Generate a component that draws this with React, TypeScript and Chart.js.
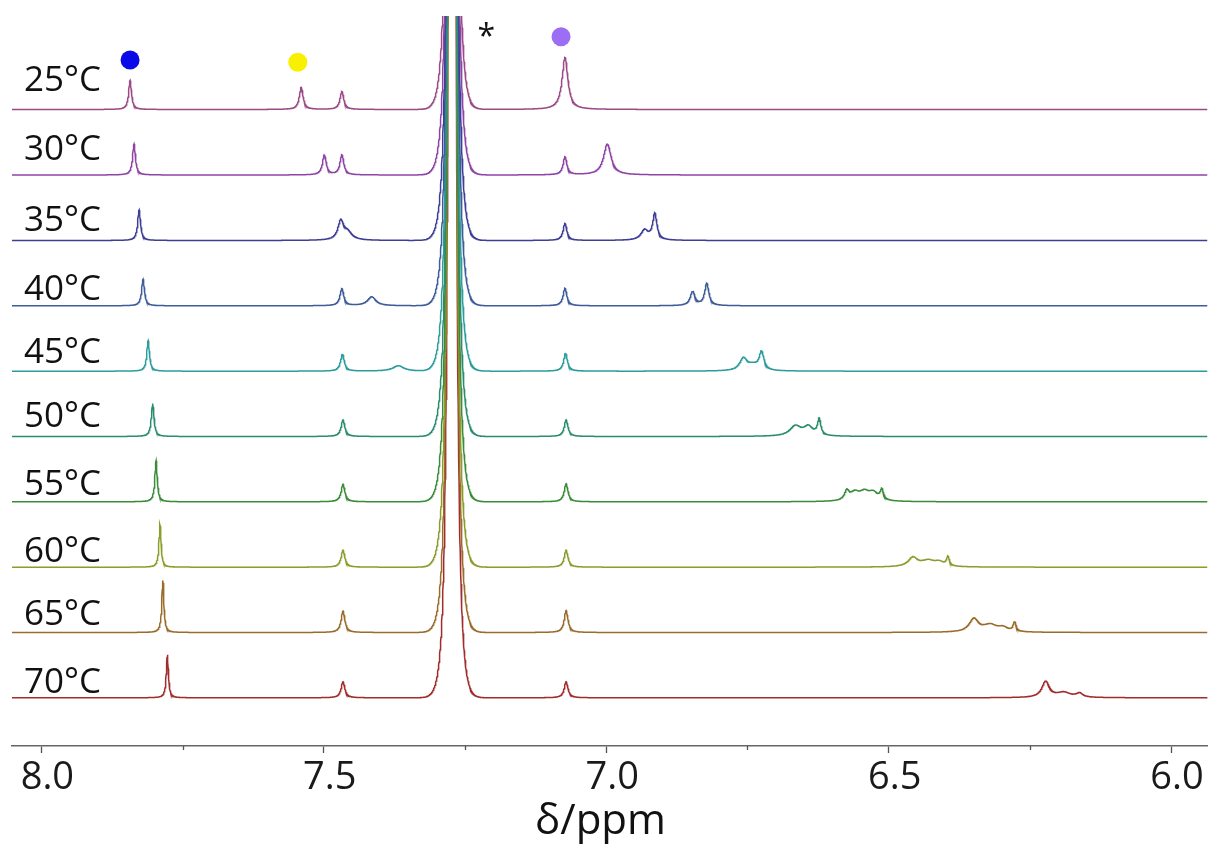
import React, { useEffect, useRef } from "react";
import { Chart, registerables } from "chart.js";

Chart.register(...registerables);

// ---- axis range & ticks (ppm, reversed axis) ----
const ppmLeft = 8.052;
const ppmRight = 5.9355;
const majorTicks = [8.0, 7.5, 7.0, 6.5, 6.0];
const minorTicks = [7.75, 7.25, 6.75, 6.25];
const sampleStep = 0.0005;

// ---- traces ----
const temperatures = ["25°C", "30°C", "35°C", "40°C", "45°C", "50°C", "55°C", "60°C", "65°C", "70°C"];
const traceColors = [
  "#9c4a86", "#8e44a6", "#3e3e96", "#3d5c98", "#2c9c9c",
  "#2b8c70", "#3a8c3a", "#8c9c2c", "#9a6c2c", "#a02c2c",
];
// vertical offset of each spectrum's baseline (same units as y axis)
const baselineLevels = [636.5, 571, 505.5, 440.2, 374.8, 309.5, 244.2, 178.8, 113.5, 48.2];
// text baseline level of each temperature label
const labelLevels = [655.3, 586, 515.3, 446, 383, 319.3, 251, 184.3, 121, 53];

// peaks: [ppm, height, half-width (ppm)]
const peaks25 = [[7.843, 29, 0.003], [7.54, 22, 0.004], [7.468, 18, 0.004], [7.073, 52, 0.0062]];
const peaks30 = [[7.836, 31, 0.003], [7.499, 20, 0.004], [7.468, 20, 0.004], [7.073, 18, 0.004], [6.998, 31, 0.008]];
const peaks35 = [[7.827, 30.5, 0.003], [7.47, 18, 0.006], [7.458, 8, 0.01], [7.073, 17, 0.004], [6.932, 10, 0.008], [6.914, 26, 0.0045]];
const peaks40 = [[7.82, 26.5, 0.003], [7.468, 17, 0.004], [7.415, 9, 0.009], [7.073, 17.5, 0.004], [6.847, 14, 0.005], [6.822, 22, 0.0045]];
const peaks45 = [[7.811, 30.5, 0.0028], [7.467, 17, 0.004], [7.368, 5.5, 0.012], [7.072, 18, 0.004], [6.757, 12, 0.008], [6.74, 5, 0.012], [6.725, 18, 0.005]];
const peaks50 = [[7.803, 33, 0.0028], [7.466, 16.5, 0.004], [7.071, 16.5, 0.004], [6.665, 10, 0.012], [6.642, 9, 0.01], [6.623, 16, 0.0035]];
const peaks55 = [[7.797, 41, 0.0025], [7.466, 17.5, 0.004], [7.071, 18, 0.004], [6.574, 9, 0.005], [6.56, 8, 0.01], [6.543, 8, 0.01], [6.527, 8, 0.01], [6.512, 10, 0.0035]];
const peaks60 = [[7.79, 43, 0.0022], [7.466, 17, 0.004], [7.071, 17, 0.004], [6.457, 9, 0.01], [6.43, 6, 0.015], [6.41, 4, 0.01], [6.395, 9, 0.003]];
const peaks65 = [[7.785, 52, 0.0022], [7.466, 21.5, 0.004], [7.071, 22, 0.004], [6.349, 13, 0.01], [6.32, 7, 0.015], [6.297, 4, 0.01], [6.277, 9.5, 0.003]];
const peaks70 = [[7.777, 43, 0.0022], [7.466, 16, 0.004], [7.071, 16, 0.004], [6.222, 16, 0.008], [6.19, 5, 0.015], [6.162, 4, 0.007]];
const peakLists = [peaks25, peaks30, peaks35, peaks40, peaks45, peaks50, peaks55, peaks60, peaks65, peaks70];

// residual solvent (CHCl3) line, off scale in every trace
const solventPpm = 7.2728;
const solventStrength = 0.04;
const solventCoreWidthSq = 4e-8;
const solventDamping = 0.027;

// ---- markers above the peaks ----
const markerPpm = [7.843, 7.546, 7.08];
const markerLevels = [686, 683.7, 709.3];
const markerColors = ["#0a0ae8", "#f8f000", "#9b6ef5"];
const asteriskPpm = 7.2125;
const asteriskLevel = 699;

function intensity(ppm: number, list: number[][]): number {
  let s = 0;
  for (const [c, h, w] of list) {
    const d = (ppm - c) / w;
    s += h / (1 + d * d);
  }
  const d = ppm - solventPpm;
  s += (solventStrength / (d * d + solventCoreWidthSq)) * Math.exp(-(d / solventDamping) * (d / solventDamping));
  return s;
}

function buildTrace(i: number) {
  const pts: { x: number; y: number }[] = [];
  const n = Math.round((ppmLeft - ppmRight) / sampleStep);
  for (let k = 0; k <= n; k++) {
    const ppm = ppmLeft - k * sampleStep;
    pts.push({ x: ppm, y: baselineLevels[i] + intensity(ppm, peakLists[i]) });
  }
  return pts;
}

const FONT = '"Open Sans", "DejaVu Sans", sans-serif';

const decorPlugin = {
  id: "decor",
  afterDraw(chart: any) {
    const { ctx } = chart;
    const x = chart.scales.x;
    const y = chart.scales.y;
    ctx.save();
    // minor ticks
    ctx.strokeStyle = "#555";
    ctx.lineWidth = 1.3;
    ctx.beginPath();
    for (const v of minorTicks) {
      const px = Math.round(x.getPixelForValue(v)) + 0.5;
      ctx.moveTo(px, x.top);
      ctx.lineTo(px, x.top + 4);
    }
    ctx.stroke();
    // temperature labels
    ctx.fillStyle = "#111";
    ctx.textAlign = "left";
    ctx.textBaseline = "alphabetic";
    ctx.font = `35px ${FONT}`;
    temperatures.forEach((t, i) => {
      ctx.fillText(t, x.left + 12, y.getPixelForValue(labelLevels[i]));
    });
    // asterisk
    ctx.textAlign = "center";
    ctx.font = `32px ${FONT}`;
    ctx.fillText("*", x.getPixelForValue(asteriskPpm), y.getPixelForValue(asteriskLevel));
    // axis title
    ctx.font = `42px ${FONT}`;
    ctx.fillText("δ/ppm", chart.width / 2 - 8, 834);
    ctx.restore();
  },
};

export default function App() {
  const ref = useRef<HTMLCanvasElement | null>(null);
  useEffect(() => {
    if (!ref.current) return;
    const datasets: any[] = temperatures.map((t, i) => ({
      label: t,
      data: buildTrace(i),
      borderColor: traceColors[i],
      borderWidth: 1.5,
      pointRadius: 0,
      fill: false,
      tension: 0,
    }));
    datasets.push({
      type: "scatter",
      label: "markers",
      data: markerPpm.map((p, i) => ({ x: p, y: markerLevels[i] })),
      pointRadius: 9.5,
      pointBackgroundColor: markerColors,
      pointBorderWidth: 0,
      borderWidth: 0,
      showLine: false,
    });
    const chart = new Chart(ref.current, {
      type: "line",
      data: { datasets },
      options: {
        animation: false,
        responsive: false,
        devicePixelRatio: 1,
        normalized: true,
        layout: { padding: { left: 12, top: 16, right: 0, bottom: 0 } },
        plugins: { legend: { display: false }, tooltip: { enabled: false } },
        events: [],
        scales: {
          x: {
            type: "linear",
            reverse: true,
            min: ppmRight,
            max: ppmLeft,
            afterBuildTicks: (scale: any) => {
              scale.ticks = majorTicks.map((v) => ({ value: v }));
            },
            afterFit: (scale: any) => {
              scale.height = 100;
            },
            grid: {
              drawOnChartArea: false,
              drawTicks: true,
              tickLength: 7,
              tickColor: "#555",
              tickWidth: 1.3,
            },
            border: { display: true, color: "#666", width: 1.6 },
            ticks: {
              autoSkip: false,
              maxRotation: 0,
              minRotation: 0,
              padding: 2,
              labelOffset: 6,
              color: "#1a1a1a",
              font: { family: FONT, size: 38 },
              callback: (v: any) => Number(v).toFixed(1),
            },
          },
          y: { display: false, min: 0, max: 730 },
        },
      },
      plugins: [decorPlugin],
    } as any);
    return () => chart.destroy();
  }, []);
  return (
    <div style={{ position: "absolute", left: 0, top: 0, width: 1217, height: 846, background: "#fff" }}>
      <canvas ref={ref} width={1217} height={846} />
    </div>
  );
}
